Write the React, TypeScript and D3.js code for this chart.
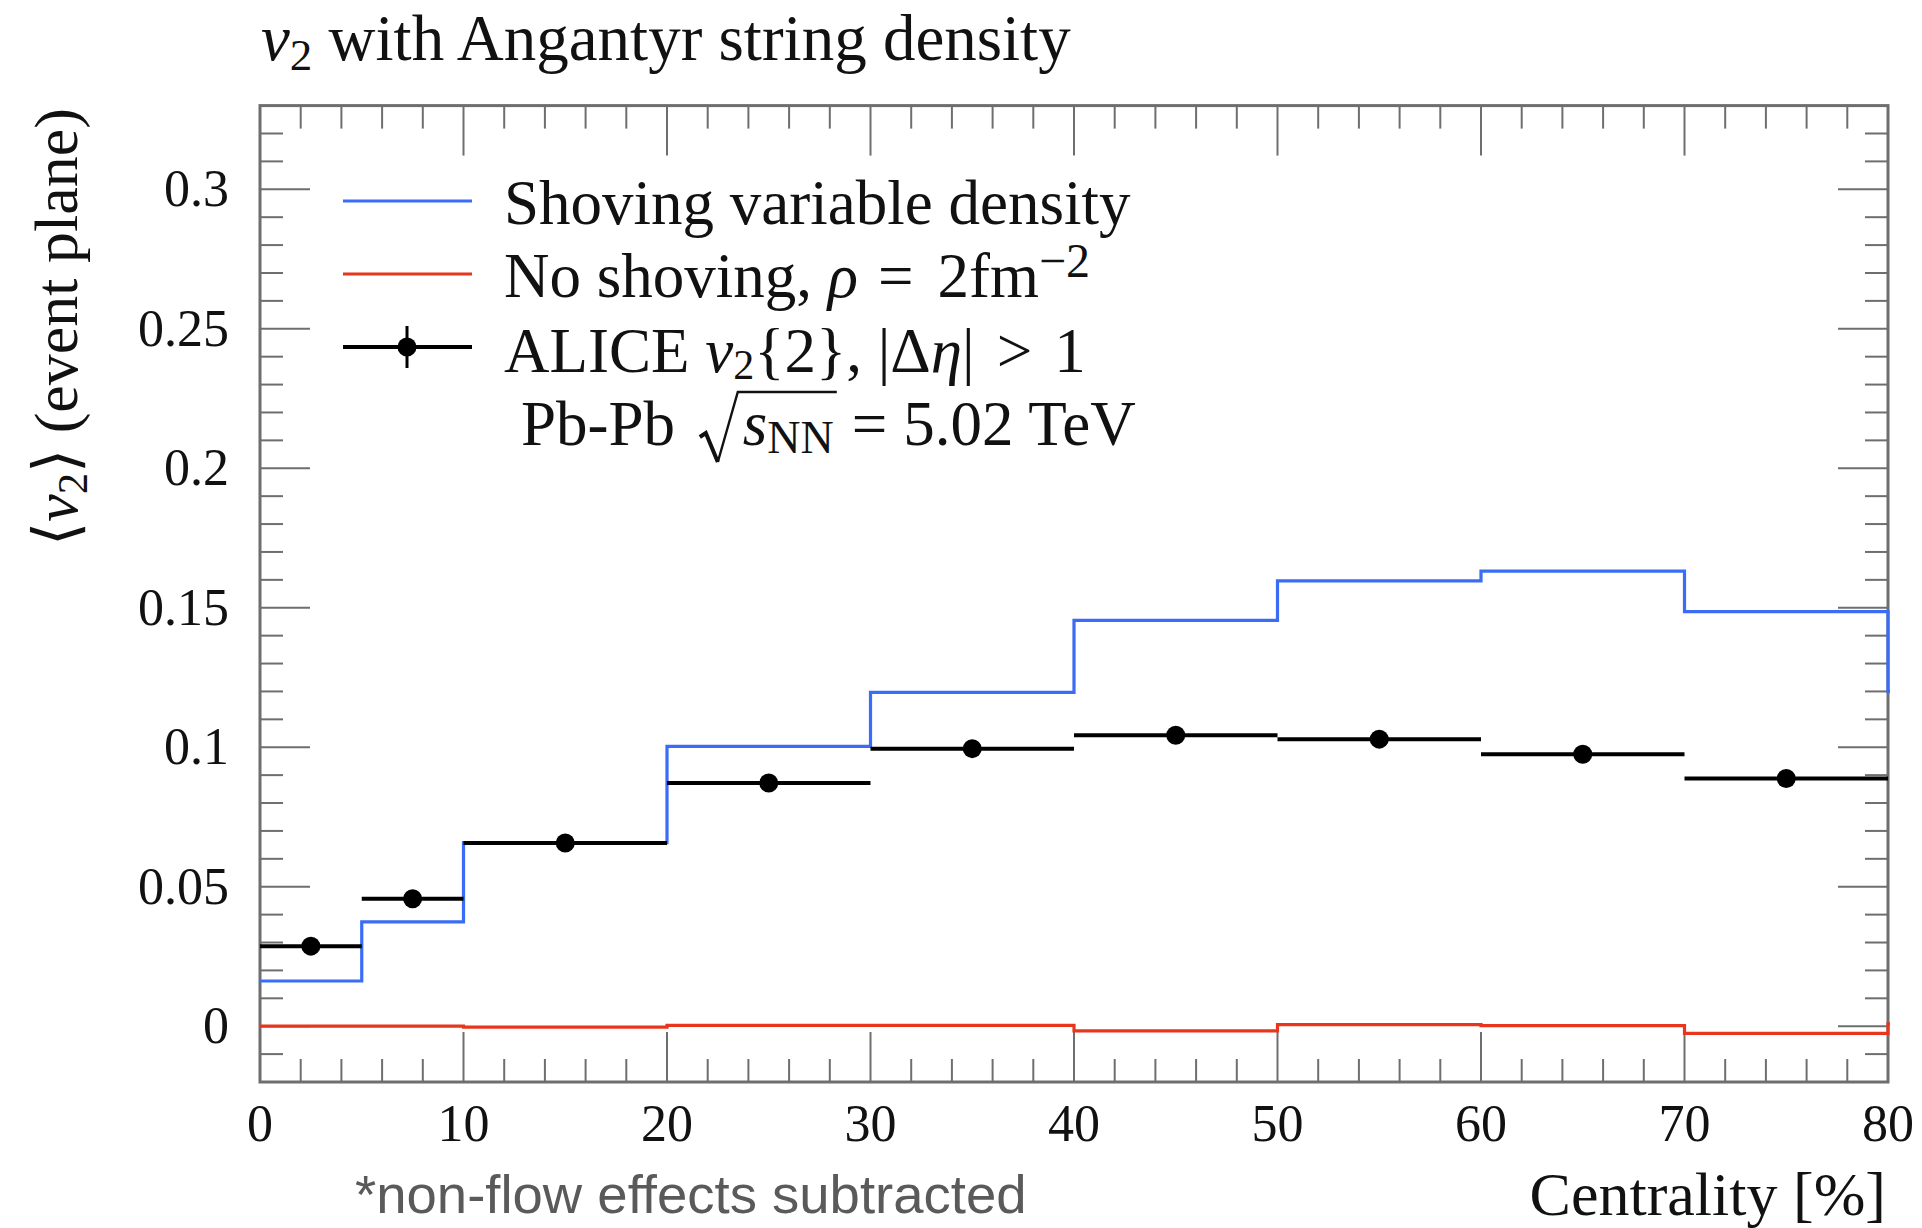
import React, { useLayoutEffect, useRef, useState } from 'react';
import * as d3 from 'd3';

// Centrality bin edges (%) for the model histograms; the last bin lies past the axis and is clipped.
const binEdges = [0, 5, 10, 20, 30, 40, 50, 60, 70, 80, 90];
const shovingValues = [0.0162, 0.0374, 0.0658, 0.1003, 0.1197, 0.1455, 0.1596, 0.1631, 0.1486, 0.12];
const noShovingValues = [0.0, 0.0, -0.0003, 0.0003, 0.0003, -0.0017, 0.0006, 0.0002, -0.0026, 0.0008];

// ALICE v2{2} points: bin ranges and values
const aliceLow = [0, 5, 10, 20, 30, 40, 50, 60, 70];
const aliceHigh = [5, 10, 20, 30, 40, 50, 60, 70, 80];
const aliceValues = [0.0287, 0.0457, 0.0657, 0.0872, 0.0995, 0.1043, 0.1029, 0.0975, 0.0888];

// Axis ticks
const xMajorTicks = [0, 10, 20, 30, 40, 50, 60, 70, 80];
const xTickLabels = ['0', '10', '20', '30', '40', '50', '60', '70', '80'];
const yMajorTicks = [0, 0.05, 0.1, 0.15, 0.2, 0.25, 0.3];
const yTickLabels = ['0', '0.05', '0.1', '0.15', '0.2', '0.25', '0.3'];

const W = 1922;
const H = 1228;
const serif = '"Liberation Serif", "Times New Roman", serif';
const frameColor = '#6e6e6e';
const blue = '#3a6cf6';
const red = '#e8361e';

export default function App() {
  const x = d3.scaleLinear().domain([0, 80]).range([260, 1888]);
  const y = d3.scaleLinear().domain([-0.02, 0.33]).range([1082, 105.6]);

  const xMinor = d3.range(0, 80.001, 2).filter((v) => Math.abs(v % 10) > 1e-6);
  const yMinor = d3
    .range(-0.02, 0.3301, 0.01)
    .map((v) => Math.round(v * 100) / 100)
    .filter((v) => Math.abs(Math.round(v * 100) % 5) !== 0 && v > -0.02 && v < 0.33);

  const stepLine = d3
    .line<[number, number]>()
    .x((d) => x(d[0]))
    .y((d) => y(d[1]))
    .curve(d3.curveStepAfter);

  const histPoints = (vals: number[]): [number, number][] => {
    const pts: [number, number][] = vals.map((v, i) => [binEdges[i], v]);
    pts.push([binEdges[binEdges.length - 1], vals[vals.length - 1]]);
    return pts;
  };

  const majorLen = 50;
  const minorLen = 23;
  const [x0, x1] = x.range();
  const [y0, y1] = y.range();

  const tickFs = 52;
  const legendFs = 63;
  const energyBaseline = 445;

  // Radical sign over s_NN, placed from the rendered glyph positions
  const energyText = useRef<SVGTextElement>(null);
  const [rad, setRad] = useState<{ s: number; e: number } | null>(null);

  useLayoutEffect(() => {
    const t = energyText.current;
    if (!t) return;
    const full = t.textContent || '';
    const iS = full.indexOf('s');
    const iEnd = full.indexOf('NN') + 1;
    if (iS < 0 || iEnd < 1) return;
    setRad({ s: t.getStartPositionOfChar(iS).x, e: t.getEndPositionOfChar(iEnd).x });
  }, []);

  const b = energyBaseline;

  return (
    <svg
      width={W}
      height={H}
      viewBox={`0 0 ${W} ${H}`}
      style={{ position: 'absolute', left: 0, top: 0, display: 'block', background: '#fff' }}
    >
      <defs>
        <clipPath id="plotArea">
          <rect x={x0 - 2} y={y1} width={x1 - x0 + 4} height={y0 - y1} />
        </clipPath>
      </defs>
      <rect x={0} y={0} width={W} height={H} fill="#fff" />

      {/* Title */}
      <text x={261} y={60} fontFamily={serif} fontSize={65} fill="#111">
        <tspan fontStyle="italic">v</tspan>
        <tspan fontSize={45} dy={10}>2</tspan>
        <tspan dy={-10}> with Angantyr string density</tspan>
      </text>

      {/* Frame */}
      <rect x={x0} y={y1} width={x1 - x0} height={y0 - y1} fill="none" stroke={frameColor} strokeWidth={3} />

      {/* Ticks on all four sides */}
      <g stroke={frameColor} strokeWidth={2}>
        {xMajorTicks.map((t) => (
          <g key={`xM${t}`}>
            <line x1={x(t)} x2={x(t)} y1={y0} y2={y0 - majorLen} />
            <line x1={x(t)} x2={x(t)} y1={y1} y2={y1 + majorLen} />
          </g>
        ))}
        {xMinor.map((t) => (
          <g key={`xm${t}`}>
            <line x1={x(t)} x2={x(t)} y1={y0} y2={y0 - minorLen} />
            <line x1={x(t)} x2={x(t)} y1={y1} y2={y1 + minorLen} />
          </g>
        ))}
        {yMajorTicks.map((t) => (
          <g key={`yM${t}`}>
            <line x1={x0} x2={x0 + majorLen} y1={y(t)} y2={y(t)} />
            <line x1={x1} x2={x1 - majorLen} y1={y(t)} y2={y(t)} />
          </g>
        ))}
        {yMinor.map((t) => (
          <g key={`ym${t}`}>
            <line x1={x0} x2={x0 + minorLen} y1={y(t)} y2={y(t)} />
            <line x1={x1} x2={x1 - minorLen} y1={y(t)} y2={y(t)} />
          </g>
        ))}
      </g>

      {/* Data */}
      <g clipPath="url(#plotArea)">
        <path d={stepLine(histPoints(noShovingValues)) || ''} fill="none" stroke={red} strokeWidth={3.2} />
        <path d={stepLine(histPoints(shovingValues)) || ''} fill="none" stroke={blue} strokeWidth={3.2} />
        {aliceValues.map((v, i) => (
          <g key={`a${i}`}>
            <line
              x1={x(aliceLow[i])}
              x2={x(aliceHigh[i])}
              y1={y(v)}
              y2={y(v)}
              stroke="#000"
              strokeWidth={4}
            />
            <circle cx={x((aliceLow[i] + aliceHigh[i]) / 2)} cy={y(v)} r={9.5} fill="#000" />
          </g>
        ))}
      </g>

      {/* Tick labels */}
      <g fontFamily={serif} fontSize={tickFs} fill="#111">
        {yMajorTicks.map((t, i) => (
          <text key={`yl${t}`} x={229} y={y(t) + 17} textAnchor="end">
            {yTickLabels[i]}
          </text>
        ))}
        {xMajorTicks.map((t, i) => (
          <text key={`xl${t}`} x={x(t)} y={1141} textAnchor="middle">
            {xTickLabels[i]}
          </text>
        ))}
      </g>

      {/* Axis titles */}
      <text x={1886} y={1215} textAnchor="end" fontFamily={serif} fontSize={62} fill="#111">
        Centrality [%]
      </text>
      <text
        transform="translate(77,108) rotate(-90)"
        textAnchor="end"
        fontFamily={serif}
        fontSize={62}
        fill="#111"
      >
        <tspan>⟨</tspan>
        <tspan fontStyle="italic">v</tspan>
        <tspan fontSize={43} dy={10}>2</tspan>
        <tspan dy={-10}>⟩ (event plane)</tspan>
      </text>

      {/* Footnote */}
      <text
        x={355}
        y={1213}
        fontFamily='"Liberation Sans", Arial, sans-serif'
        fontSize={54.5}
        fill="#5a5a5a"
      >
        *non-flow effects subtracted
      </text>

      {/* Legend */}
      <g fontFamily={serif} fontSize={legendFs} fill="#111">
        <line x1={343} x2={472} y1={201} y2={201} stroke={blue} strokeWidth={3.2} />
        <text x={504} y={224}>Shoving variable density</text>

        <line x1={343} x2={472} y1={274} y2={274} stroke={red} strokeWidth={3.2} />
        <text x={504} y={297} style={{ whiteSpace: 'pre' }}>
          <tspan>No shoving, </tspan>
          <tspan fontStyle="italic">ρ</tspan>
          <tspan dx={20}>=</tspan>
          <tspan dx={24}>2fm</tspan>
          <tspan fontSize={48} dy={-20}>−2</tspan>
        </text>

        <line x1={343} x2={472} y1={347} y2={347} stroke="#000" strokeWidth={4} />
        <line x1={407} x2={407} y1={326} y2={368} stroke="#000" strokeWidth={3} />
        <circle cx={407} cy={347} r={9.5} fill="#000" />
        <text x={504} y={372} style={{ whiteSpace: 'pre' }}>
          <tspan>ALICE </tspan>
          <tspan fontStyle="italic">v</tspan>
          <tspan fontSize={42} dy={7}>2</tspan>
          <tspan dy={-7}>{'{2}, |Δ'}</tspan>
          <tspan fontStyle="italic">η</tspan>
          <tspan>|</tspan>
          <tspan dx={22}>{'>'}</tspan>
          <tspan dx={22}>1</tspan>
        </text>

        <text ref={energyText} x={521} y={b} style={{ whiteSpace: 'pre' }}>
          <tspan>Pb-Pb </tspan>
          <tspan fontStyle="italic" dx={52}>s</tspan>
          <tspan fontSize={46} dy={8}>NN</tspan>
          <tspan dy={-8} dx={18}>=</tspan>
          <tspan dx={16}>5.02 TeV</tspan>
        </text>
        {rad && (
          <g fill="none" stroke="#111" strokeLinejoin="miter" strokeLinecap="butt">
            <path
              d={`M${rad.s - 43},${b - 8} L${rad.s - 37},${b - 12} L${rad.s - 25},${b + 17}`}
              strokeWidth={4}
            />
            <path
              d={`M${rad.s - 25},${b + 17} L${rad.s - 5},${b - 53} L${rad.e + 3},${b - 53}`}
              strokeWidth={2.4}
            />
          </g>
        )}
      </g>
    </svg>
  );
}
